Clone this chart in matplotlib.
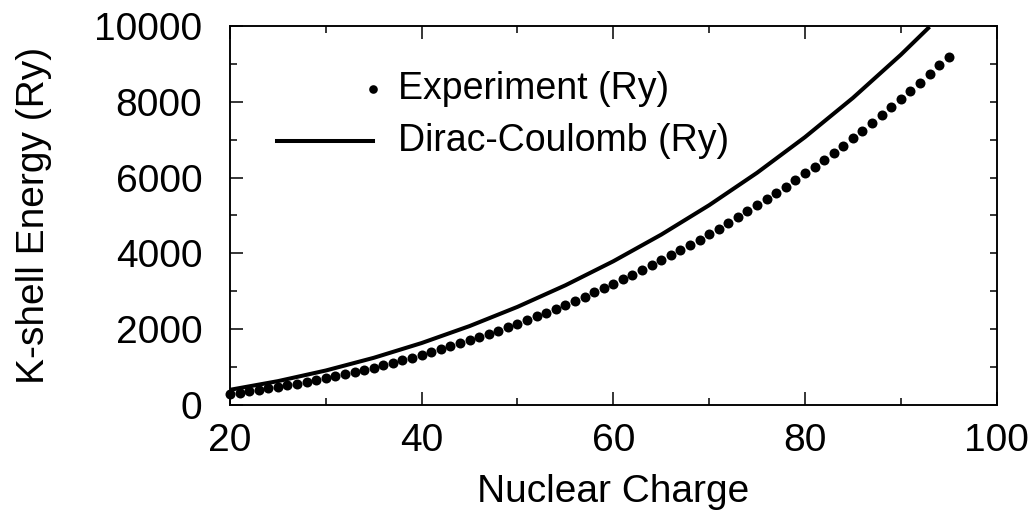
import matplotlib
matplotlib.use("Agg")
import matplotlib.pyplot as plt
from matplotlib.ticker import MultipleLocator

plt.rcParams["font.family"] = ["Liberation Sans", "DejaVu Sans"]

# experimental K-shell energies (Ry), Z = 20..95
z_exp = list(range(20, 96))
e_exp = [
    296.8, 330.2, 365.0, 401.7, 440.2, 480.6, 522.7, 566.6, 612.5, 659.9,
    709.9, 762.0, 816.0, 872.2, 930.4, 990.3, 1052.9, 1117.2, 1183.7, 1252.3,
    1322.8, 1395.4, 1470.0, 1546.7, 1625.6, 1706.6, 1789.7, 1875.2, 1963.2, 2053.5,
    2146.2, 2241.1, 2338.3, 2437.9, 2540.2, 2644.9, 2751.9, 2860.9, 2972.5, 3086.3,
    3202.2, 3320.9, 3442.2, 3566.1, 3692.5, 3821.6, 3953.4, 4087.8, 4225.1, 4365.1,
    4507.8, 4653.5, 4803.2, 4955.0, 5110.0, 5268.1, 5429.5, 5594.1, 5762.0, 5933.2,
    6107.9, 6286.4, 6468.3, 6653.6, 6843.2, 7036.0, 7232.6, 7433.5, 7638.2, 7846.4,
    8059.3, 8276.1, 8497.0, 8722.8, 8953.5, 9189.4,
]

# Dirac-Coulomb curve (Ry)
z_dc = [20, 25, 30, 35, 40, 45, 50, 55, 60, 65, 70, 75, 80, 85, 90, 93]
e_dc = [402.2, 630.3, 911.1, 1245.7, 1635.6, 2082.8, 2589.3, 3157.8,
        3791.4, 4493.9, 5269.7, 6124.3, 7064.4, 8098.0, 9235.5, 9973.1]

fig = plt.figure(figsize=(10.36, 5.16), dpi=100)
ax = fig.add_axes([0.222, 0.215, 0.740, 0.735])

ax.plot(z_dc, e_dc, color="black", lw=2.9, solid_capstyle="butt", clip_on=False)
ax.plot(z_exp, e_exp, "o", color="black", ms=7.2, mew=0, clip_on=False)

ax.set_xlim(20, 100)
ax.set_ylim(0, 10000)
ax.xaxis.set_major_locator(MultipleLocator(20))
ax.xaxis.set_minor_locator(MultipleLocator(10))
ax.yaxis.set_major_locator(MultipleLocator(2000))
ax.yaxis.set_minor_locator(MultipleLocator(1000))
ax.tick_params(which="both", direction="in", top=True, right=False,
               labelsize=28, width=1.1)
ax.tick_params(axis="x", which="major", pad=13)
ax.tick_params(axis="y", which="major", pad=20)
ax.tick_params(which="major", length=9.5)
ax.tick_params(which="minor", length=5)

# right-hand ticks are all short
ax2 = ax.twinx()
ax2.set_ylim(0, 10000)
ax2.yaxis.set_major_locator(MultipleLocator(1000))
ax2.tick_params(direction="in", length=5, width=1.1, labelright=False)

for a in (ax, ax2):
    for s in a.spines.values():
        s.set_linewidth(1.1)

ax.set_xlabel("Nuclear Charge", fontsize=28, labelpad=11)
ax.set_ylabel("K-shell Energy (Ry)", fontsize=28, labelpad=30)

# legend, drawn by hand
ax.plot([0.1864], [0.834], "o", color="black", ms=6.2, mew=0, transform=ax.transAxes)
ax.plot([0.0613, 0.1864], [0.696, 0.696], color="black", lw=2.9, transform=ax.transAxes)
ax.text(0.219, 0.834, "Experiment (Ry)", transform=ax.transAxes, fontsize=27, va="center")
ax.text(0.219, 0.696, "Dirac-Coulomb (Ry)", transform=ax.transAxes, fontsize=27, va="center")

fig.savefig("out.png", dpi=100)
